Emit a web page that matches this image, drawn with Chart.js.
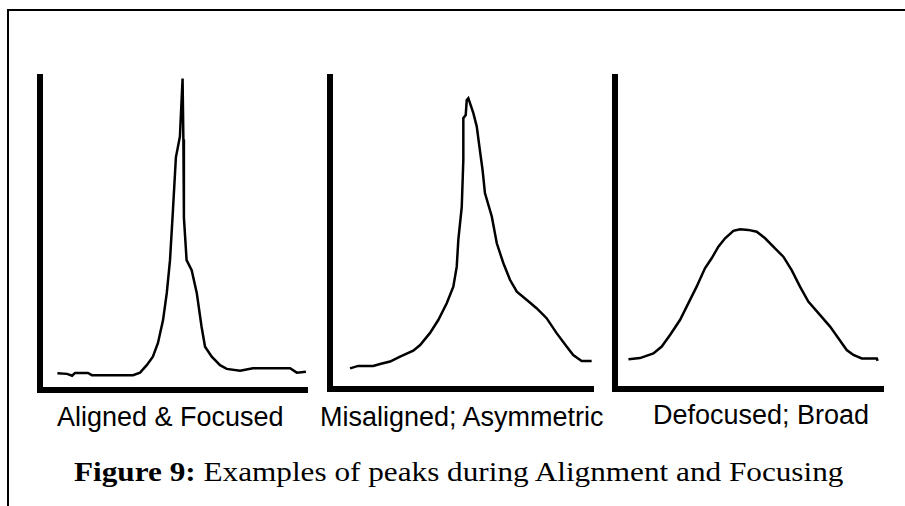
<!DOCTYPE html>
<html>
<head>
<meta charset="utf-8">
<script src="https://cdn.jsdelivr.net/npm/chart.js@4.4.0/dist/chart.umd.min.js"></script>
<style>
    body { margin: 0; background: #fff; width: 905px; height: 506px; overflow: hidden; position: relative; }
    .marco { position: absolute; left: 7px; top: 9px; width: 910px; height: 510px; border-top: 2px solid #000; border-left: 2px solid #000; }
    canvas { position: absolute; }
    .etiqueta { position: absolute; font-family: "Liberation Sans", Arial, sans-serif; font-size: 27px; line-height: 27px; color: #000; white-space: nowrap; }
    .pie { position: absolute; left: 74px; top: 458px; font-family: "Liberation Serif", "Times New Roman", serif; font-size: 28px; line-height: 28px; color: #000; white-space: nowrap; transform: scaleX(1.115); transform-origin: 0 0; }
</style>
</head>
<body>
<div class="marco"></div>
<canvas id="grafico1" width="300" height="340" style="left:20px; top:60px;"></canvas>
<canvas id="grafico2" width="290" height="340" style="left:320px; top:60px;"></canvas>
<canvas id="grafico3" width="295" height="340" style="left:605px; top:60px;"></canvas>
<div class="etiqueta" id="etiqueta1" style="left:57px; top:404px;"></div>
<div class="etiqueta" id="etiqueta2" style="left:320px; top:404px;"></div>
<div class="etiqueta" id="etiqueta3" style="left:653px; top:402px;"></div>
<div class="pie"><b>Figure 9:</b> Examples of peaks during Alignment and Focusing</div>

<script>
// titulos de cada panel
var etiquetas = ["Aligned & Focused", "Misaligned; Asymmetric", "Defocused; Broad"];

// pico 1: alineado y enfocado (x e y en unidades 0-100 del panel)
var alineadoX = [6.5, 10.1, 12.0, 13.1, 17.9, 19.4, 34.8, 37.4, 39.9, 42.2, 44.1, 46.0, 47.4, 48.6, 49.7, 50.8, 52.3, 53.3,
    53.6, 53.8, 54.8, 56.7, 58.6, 60.4, 61.7, 64.2, 67.3, 69.8, 74.8, 79.6, 93.5, 96.0, 99.4];
var alineadoY = [5.2, 5.0, 4.4, 5.3, 5.3, 4.6, 4.6, 5.4, 7.8, 10.5, 14.9, 22.2, 30.9, 41.4, 57.4, 74.3, 80.9, 99.5,
    80.0, 55.0, 41.4, 38.2, 30.9, 20.1, 13.7, 10.5, 7.8, 6.6, 6.0, 6.8, 6.8, 5.4, 5.7];

// pico 2: desalineado, asimetrico
var desalineadoX = [7.6, 10.7, 16.4, 19.0, 22.8, 26.6, 31.6, 34.2, 37.9, 41.1, 44.3, 46.8, 48.1, 48.7, 50.0, 50.6, 50.6,
    51.5, 51.9, 52.5, 54.4, 55.7, 56.7, 57.9, 58.8, 61.4, 63.3, 65.8, 68.3, 70.9, 74.7, 78.4, 82.2, 86.0, 89.8, 92.3, 95.5, 99.3];
var desalineadoY = [6.6, 7.4, 7.4, 8.0, 8.8, 10.4, 12.3, 14.1, 17.9, 22.1, 27.5, 32.8, 39.2, 47.8, 58.4, 73.4, 86.8,
    87.8, 92.6, 93.2, 88.4, 84.1, 77.7, 70.2, 62.8, 55.3, 46.7, 40.3, 35.0, 31.2, 28.5, 25.9, 22.7, 17.9, 13.6, 10.9, 9.0, 9.0];

// pico 3: desenfocado, ancho
var desenfocadoX = [5.0, 9.3, 14.3, 17.4, 20.5, 24.2, 27.9, 30.4, 33.5, 36.0, 38.5, 41.0, 44.1, 46.6, 49.6, 52.8, 55.9,
    59.6, 62.7, 65.8, 68.9, 72.0, 76.4, 80.1, 83.2, 86.3, 88.8, 91.9, 97.5, 97.8];
var desenfocadoY = [9.5, 9.9, 11.4, 13.6, 17.3, 22.1, 28.5, 32.8, 38.7, 41.9, 45.6, 48.3, 50.7, 51.2, 51.0, 50.4, 48.3,
    45.1, 42.4, 38.1, 32.8, 28.0, 23.7, 20.0, 16.3, 12.5, 10.9, 9.8, 9.8, 9.0];

function puntos(xs, ys) {
    var res = [];
    for (var i = 0; i < xs.length; i++) {
        res.push({ x: xs[i], y: ys[i] });
    }
    return res;
}

function ejeNegro() {
    return {
        type: 'linear',
        min: 0,
        max: 100,
        ticks: { display: false },
        grid: { display: false, drawTicks: false, tickLength: 0 },
        border: { display: true, width: 6, color: '#000' }
    };
}

function crearGrafico(id, xs, ys, relleno) {
    return new Chart(document.getElementById(id), {
        type: 'line',
        data: {
            datasets: [{
                data: puntos(xs, ys),
                borderColor: '#000',
                borderWidth: 2.5,
                pointRadius: 0,
                tension: 0,
                fill: false
            }]
        },
        options: {
            responsive: false,
            maintainAspectRatio: false,
            animation: false,
            layout: { padding: relleno },
            plugins: { legend: { display: false }, tooltip: { enabled: false } },
            scales: { x: ejeNegro(), y: ejeNegro() }
        }
    });
}

crearGrafico('grafico1', alineadoX, alineadoY, { left: 20, top: 17, right: 12.5, bottom: 10.5 });
crearGrafico('grafico2', desalineadoX, desalineadoY, { left: 10, top: 17, right: 16.5, bottom: 11 });
crearGrafico('grafico3', desenfocadoX, desenfocadoY, { left: 10, top: 17, right: 16.5, bottom: 11 });

document.getElementById('etiqueta1').textContent = etiquetas[0];
document.getElementById('etiqueta2').textContent = etiquetas[1];
document.getElementById('etiqueta3').textContent = etiquetas[2];
</script>
</body>
</html>
